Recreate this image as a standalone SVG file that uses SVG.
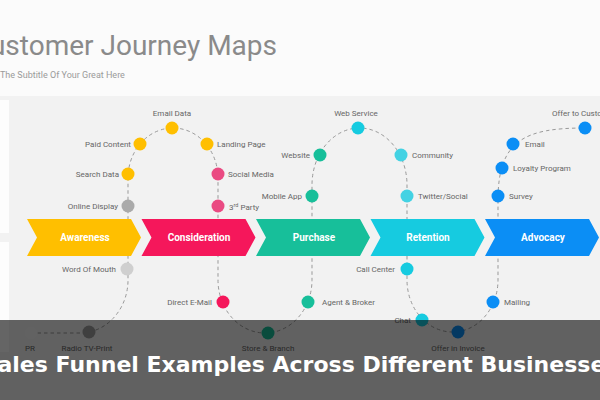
<svg xmlns="http://www.w3.org/2000/svg" width="600" height="400" viewBox="0 0 600 400">
<style>
.lbl{font-family:Roboto,"Liberation Sans",sans-serif;font-size:8px;fill:#666}
.mid{text-anchor:middle}
.end{text-anchor:end}
.chev-t{font-family:Roboto,"Liberation Sans",sans-serif;font-size:10px;font-weight:bold;fill:#fff;text-anchor:middle}
.path{fill:none;stroke:#999;stroke-width:1;stroke-dasharray:3.5 3}
.y{fill:#FFBF00}.pk{fill:#EA4A82}.rd{fill:#F5175B}.tl{fill:#17BF9A}.cy{fill:#16CBE0}.cyl{fill:#43D2E3}.bl{fill:#0B8EF5}
</style>
<rect x="0" y="0" width="600" height="400" fill="#fbfbfb"/>
<rect x="0" y="96" width="600" height="304" fill="#f2f2f2"/>
<rect x="0" y="100" width="9" height="133" fill="#fdfdfd"/>
<rect x="0" y="242" width="9" height="110" fill="#fdfdfd"/>
<text x="277" y="55" text-anchor="end" font-family="Roboto,'Liberation Sans',sans-serif" font-size="28" fill="#8a8a8a">Customer Journey Maps</text>
<text x="0" y="78" font-family="Roboto,'Liberation Sans',sans-serif" font-size="9" fill="#9a9a9a">The Subtitle Of Your Great Here</text>

<g id="connectors">
<path class="path" d="M31,333 L80,333 A48,53 0 0 0 128,280 L128,178 A45,50 0 0 1 218,178 L218,280 A47,53 0 0 0 312,280 L312,185 A47.5,57 0 0 1 407,185 L407,280 A45.5,52 0 0 0 498,280 L498,200 C498,140 525,128 585,128"/>
</g>

<g id="awareness"><polygon class="y" points="27,219 131,219 141,237.5 131,256 27,256 37,237.5"/><text class="chev-t" x="85" y="241">Awareness</text></g>
<g id="consideration"><polygon class="rd" points="141.5,219 245.5,219 255.5,237.5 245.5,256 141.5,256 151.5,237.5"/><text class="chev-t" x="199" y="241">Consideration</text></g>
<g id="purchase"><polygon class="tl" points="256,219 360,219 370,237.5 360,256 256,256 266,237.5"/><text class="chev-t" x="314" y="241">Purchase</text></g>
<g id="retention"><polygon class="cy" points="370.5,219 474.5,219 484.5,237.5 474.5,256 370.5,256 380.5,237.5"/><text class="chev-t" x="428" y="241">Retention</text></g>
<g id="advocacy"><polygon class="bl" points="485,219 589,219 599,237.5 589,256 485,256 495,237.5"/><text class="chev-t" x="543" y="241">Advocacy</text></g>

<g id="pr"><circle cx="31" cy="333" r="6.5" fill="#f4f4f4"/><text class="lbl mid" x="30" y="351">PR</text></g>
<g id="radio"><circle cx="89" cy="332" r="6.5" fill="#9e9e9e"/><text class="lbl mid" x="87" y="351">Radio TV-Print</text></g>
<g id="word-of-mouth"><circle cx="127" cy="269" r="6.5" fill="#cfcfcf"/><text class="lbl end" x="116" y="272">Word Of Mouth</text></g>
<g id="online-display"><circle cx="128" cy="206" r="6.5" fill="#aaaaaa"/><text class="lbl end" x="118" y="209">Online Display</text></g>
<g id="search-data"><circle class="y" cx="128" cy="174" r="6.5"/><text class="lbl end" x="119" y="177">Search Data</text></g>
<g id="paid-content"><circle class="y" cx="140" cy="144" r="6.5"/><text class="lbl end" x="131" y="147">Paid Content</text></g>
<g id="email-data"><circle class="y" cx="172" cy="128" r="6.5"/><text class="lbl mid" x="172" y="116">Email Data</text></g>
<g id="landing-page"><circle class="y" cx="207" cy="144" r="6.5"/><text class="lbl" x="217" y="147">Landing Page</text></g>
<g id="social-media"><circle class="pk" cx="218" cy="174" r="6.5"/><text class="lbl" x="228" y="177">Social Media</text></g>
<g id="third-party"><circle class="pk" cx="218" cy="206" r="6.5"/><text class="lbl" x="229" y="210">3<tspan font-size="5.5" dy="-3">rd</tspan><tspan dy="3"> Party</tspan></text></g>
<g id="direct-email"><circle class="rd" cx="223" cy="302" r="6.5"/><text class="lbl end" x="212" y="305">Direct E-Mail</text></g>
<g id="store-branch"><circle class="tl" cx="268" cy="333" r="6.5"/><text class="lbl mid" x="268" y="351">Store &amp; Branch</text></g>
<g id="agent-broker"><circle class="tl" cx="308" cy="302" r="6.5"/><text class="lbl" x="322" y="305">Agent &amp; Broker</text></g>
<g id="mobile-app"><circle class="tl" cx="312" cy="196" r="6.5"/><text class="lbl end" x="302" y="199">Mobile App</text></g>
<g id="website"><circle class="tl" cx="320" cy="155" r="6.5"/><text class="lbl end" x="310" y="158">Website</text></g>
<g id="web-service"><circle class="cy" cx="358" cy="128" r="6.5"/><text class="lbl mid" x="356" y="116">Web Service</text></g>
<g id="community"><circle class="cyl" cx="401" cy="155" r="6.5"/><text class="lbl" x="412" y="158">Community</text></g>
<g id="twitter"><circle class="cyl" cx="407" cy="196" r="6.5"/><text class="lbl" x="418" y="199">Twitter/Social</text></g>
<g id="call-center"><circle class="cy" cx="407" cy="269" r="6.5"/><text class="lbl end" x="395" y="272">Call Center</text></g>
<g id="chat"><circle class="cy" cx="422" cy="320" r="6.5"/><text class="lbl end" x="411" y="323">Chat</text></g>
<g id="offer-invoice"><circle class="bl" cx="458" cy="332" r="6.5"/><text class="lbl mid" x="458" y="351">Offer in Invoice</text></g>
<g id="mailing"><circle class="bl" cx="493" cy="302" r="6.5"/><text class="lbl" x="504" y="305">Mailing</text></g>
<g id="survey"><circle class="bl" cx="498" cy="196" r="6.5"/><text class="lbl" x="509" y="199">Survey</text></g>
<g id="loyalty"><circle class="bl" cx="502" cy="168" r="6.5"/><text class="lbl" x="513" y="171">Loyalty Program</text></g>
<g id="email"><circle class="bl" cx="513" cy="144" r="6.5"/><text class="lbl" x="525" y="147">Email</text></g>
<g id="offer-customer"><circle class="bl" cx="585" cy="128" r="6.5"/><text class="lbl" x="552" y="116">Offer to Customer</text></g>

<rect x="0" y="320" width="600" height="80" fill="#000" fill-opacity="0.6"/>
<text x="300" y="372" text-anchor="middle" font-family="'DejaVu Sans',sans-serif" font-weight="bold" font-size="22" fill="#fff">Sales Funnel Examples Across Different Businesses</text>
</svg>
